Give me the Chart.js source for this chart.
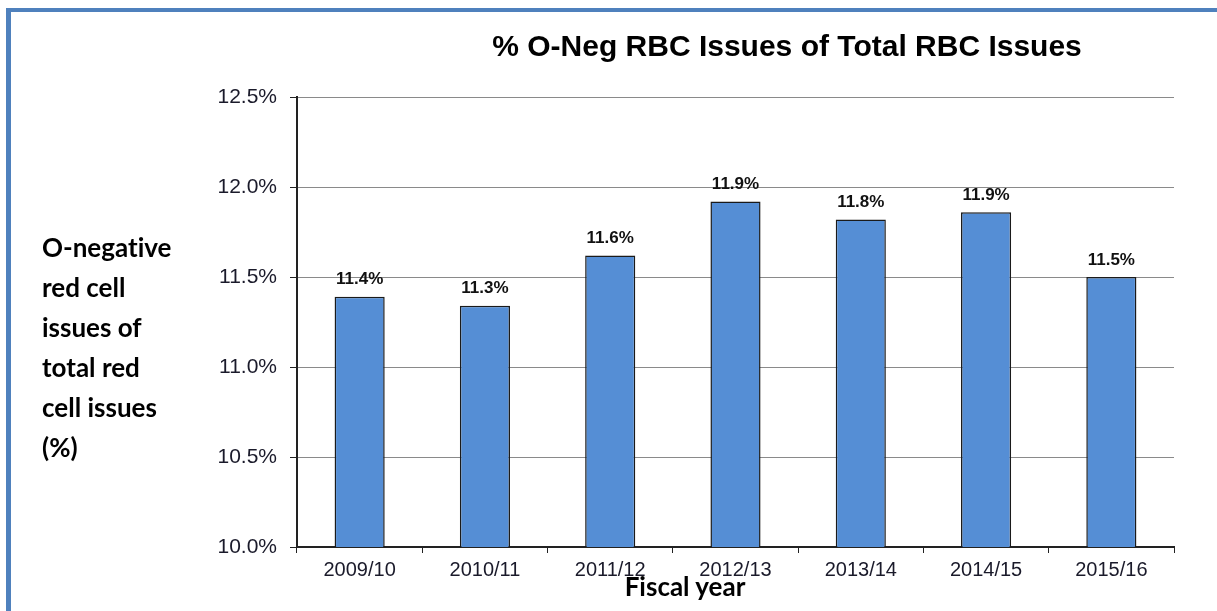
<!DOCTYPE html>
<html>
<head>
<meta charset="utf-8">
<script src="https://cdn.jsdelivr.net/npm/chart.js@4/dist/chart.umd.min.js"></script>
<style>
  html, body { margin: 0; padding: 0; background: #fff; overflow: hidden; }
  #wrap { position: relative; width: 1217px; height: 611px; overflow: hidden; background: #fff; }
  #frame { position: absolute; left: 6px; top: 8px; width: 1300px; height: 700px;
           border-top: 4px solid #4f81bd; border-left: 5px solid #4f81bd; box-sizing: border-box; }
  #c { position: absolute; left: 0; top: 0; }
  #title { position: absolute; left: 357px; width: 860px; top: 31px; text-align: center;
           font: bold 30px "Liberation Sans", Arial, sans-serif; line-height: 30px; color: #000; white-space: nowrap; }
  #ytitle { position: absolute; left: 42px; top: 227px; font: bold 26px Lato, "Open Sans", sans-serif;
            line-height: 40px; color: #000; font-variant-ligatures: none; }
  #xtitle { position: absolute; left: 485px; width: 400px; top: 571px; text-align: center;
            font: bold 26px Lato, "Open Sans", sans-serif; line-height: 30px; color: #000; font-variant-ligatures: none; }
</style>
</head>
<body>
<div id="wrap">
  <canvas id="c" width="1217" height="611"></canvas>
  <div id="frame"></div>
  <div id="title">% O-Neg RBC Issues of Total RBC Issues</div>
  <div id="ytitle">O-negative<br>red cell<br>issues of<br>total red<br>cell issues<br>(%)</div>
  <div id="xtitle">Fiscal year</div>
</div>
<script>
const categories = ["2009/10", "2010/11", "2011/12", "2012/13", "2013/14", "2014/15", "2015/16"];
const oNegShare = [11.39, 11.34, 11.62, 11.92, 11.82, 11.86, 11.50];
const yTicks = [10.0, 10.5, 11.0, 11.5, 12.0, 12.5];

const valueLabels = {
  id: 'valueLabels',
  afterDatasetsDraw(chart) {
    const ctx = chart.ctx;
    const meta = chart.getDatasetMeta(0);
    ctx.save();
    ctx.font = 'bold 17px "Liberation Sans", Arial, sans-serif';
    ctx.fillStyle = '#111';
    ctx.textAlign = 'center';
    ctx.textBaseline = 'alphabetic';
    meta.data.forEach((bar, i) => {
      ctx.fillText(oNegShare[i].toFixed(1) + '%', bar.x, bar.y - 12.5);
    });
    ctx.restore();
  }
};

new Chart(document.getElementById('c'), {
  type: 'bar',
  data: {
    labels: categories,
    datasets: [{
      data: oNegShare,
      backgroundColor: '#558ed5',
      borderColor: '#1a1a1a',
      borderWidth: 1.5,
      barPercentage: 0.4,
      categoryPercentage: 1.0
    }]
  },
  options: {
    responsive: false,
    animation: false,
    devicePixelRatio: 1,
    layout: { padding: { top: 97, right: 43, bottom: 0, left: 0 } },
    plugins: { legend: { display: false }, title: { display: false }, tooltip: { enabled: false } },
    scales: {
      x: {
        offset: true,
        grid: { display: true, drawOnChartArea: false, drawTicks: true, tickLength: 6, tickColor: '#222', offset: true },
        border: { display: true, color: '#222', width: 2 },
        ticks: { color: '#1a1a2a', padding: 5, font: { family: '"Liberation Sans", Arial, sans-serif', size: 20 }, maxRotation: 0 },
        afterFit(scale) { scale.height = 64; }
      },
      y: {
        min: 10, max: 12.5,
        afterBuildTicks(scale) { scale.ticks = yTicks.map(v => ({ value: v })); },
        grid: { color: '#8a8a8a', lineWidth: 1, drawTicks: true, tickLength: 7, tickColor: '#222' },
        border: { display: true, color: '#222', width: 2 },
        ticks: {
          color: '#1a1a2a', padding: 13,
          font: { family: '"Liberation Sans", Arial, sans-serif', size: 21 },
          callback: (v) => Number(v).toFixed(1) + '%'
        },
        afterFit(scale) { scale.width = 297; }
      }
    }
  },
  plugins: [valueLabels]
});
</script>
</body>
</html>
